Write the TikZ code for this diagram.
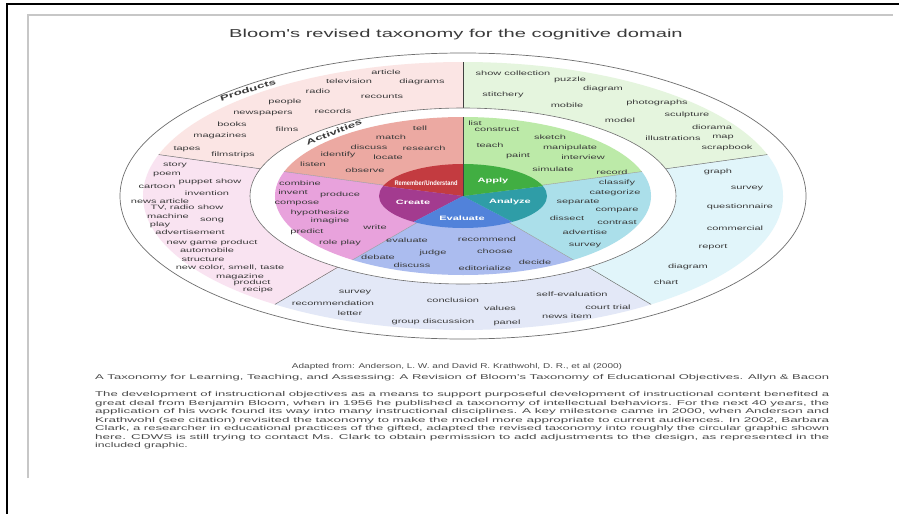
\documentclass[tikz,border=0pt]{standalone}
\usepackage{fontspec}
\setmainfont{Liberation Sans}
\newfontfamily\wf[FakeStretch=1.75]{Liberation Sans}
\usepackage{graphicx}
\definecolor{prR}{HTML}{FBE5E4}
\definecolor{prG}{HTML}{E5F5DE}
\definecolor{prT}{HTML}{E1F5FA}
\definecolor{prB}{HTML}{E3E8F7}
\definecolor{prP}{HTML}{F9E3F1}
\definecolor{acR}{HTML}{ECA9A2}
\definecolor{acG}{HTML}{BCEAA8}
\definecolor{acT}{HTML}{ABDFEA}
\definecolor{acB}{HTML}{ABBCEF}
\definecolor{acP}{HTML}{E8A2DC}
\definecolor{coR}{HTML}{C33B40}
\definecolor{coG}{HTML}{41AE42}
\definecolor{coT}{HTML}{2F9DA7}
\definecolor{coB}{HTML}{5182DA}
\definecolor{coP}{HTML}{A33B8F}
\definecolor{wordc}{HTML}{3A3A3A}
\definecolor{capc}{HTML}{4A4A4A}
\definecolor{linec}{HTML}{6E6E6E}
\newcommand\piesec[5]{\fill[#1] (0,0) -- (-#2:#4 and #5) arc[start angle=-#2,end angle=-#3,x radius=#4,y radius=#5] -- cycle;}
\begin{document}
\begin{tikzpicture}[x=1pt,y=-1pt,
  wrd/.style={font=\wf\fontsize{6.3}{7}\selectfont,text=wordc,inner sep=0pt},
  ringlab/.style={font=\wf\bfseries\fontsize{7.6}{8}\selectfont,text=wordc,inner sep=0pt},
  corelab/.style={font=\wf\bfseries\fontsize{6.3}{7}\selectfont,text=white,inner sep=0pt},
  captxt/.style={font=\fontsize{7}{8}\selectfont,text=capc,inner sep=0pt},
  divl/.style={draw=linec,line width=0.5pt}]
\useasboundingbox (0,0) rectangle (899,514);
\fill[white] (0,0) rectangle (899,514);
% frames
\draw[black,line width=2pt] (6,4) -- (899,4);
\draw[black,line width=2pt] (7,3) -- (7,514);
\draw[black!22,line width=1.5pt] (28,478) -- (28,15) -- (893,15);
% title
\node[font=\wf\fontsize{11.5}{12}\selectfont,text=wordc,inner sep=0pt] (title) at (456,35) {Bloom's revised taxonomy for the cognitive domain};
% wheel
\begin{scope}[shift={(463,196)}]
  \draw[linec,line width=0.7pt] (0,0) ellipse[x radius=343,y radius=143];
  \piesec{prR}{90}{162}{320}{134}
  \piesec{prP}{162}{234}{320}{134}
  \piesec{prB}{234}{306}{320}{134}
  \piesec{prT}{306}{378}{320}{134}
  \piesec{prG}{18}{90}{320}{134}
  \foreach \a in {162,234,306,18} \draw[divl] (-\a:213 and 88) -- (-\a:320 and 134);
  \draw[black!75,line width=0.8pt] (-90:213 and 88) -- (-90:320 and 134);
  \filldraw[fill=white,draw=linec,line width=0.6pt] (0,0) ellipse[x radius=213,y radius=88];
  \piesec{acR}{90}{162}{188}{79}
  \piesec{acP}{162}{234}{188}{79}
  \piesec{acB}{234}{306}{188}{79}
  \piesec{acT}{306}{378}{188}{79}
  \piesec{acG}{18}{90}{188}{79}
  \foreach \a in {162,234,306,18} \draw[draw=linec!70,line width=0.4pt] (0,0) -- (-\a:188 and 79);
  \piesec{coR}{90}{162}{84}{32}
  \piesec{coP}{162}{234}{84}{32}
  \piesec{coB}{234}{306}{84}{32}
  \piesec{coT}{306}{378}{84}{32}
  \piesec{coG}{18}{90}{84}{32}
  \draw[black!75,line width=0.8pt] (0,0) -- (-90:188 and 79);
\end{scope}
% ring labels
\node[ringlab,rotate=17] (products) at (248,90) {Products};
\node[ringlab,rotate=21] (activities) at (334,132) {Activities};
% core labels
\node[corelab] (remember) at (426,183) {\resizebox{63pt}{4.8pt}{Remember/Understand}};
\node[corelab] (apply) at (493,181) {Apply};
\node[corelab] (analyze) at (510,202) {Analyze};
\node[corelab] (evaluate) at (462,218) {Evaluate};
\node[corelab] (create) at (413,202) {Create};
% products words
\foreach \t/\x/\y [count=\i] in {article/386/72, television/349/81, diagrams/422/82, radio/318/91, recounts/382/96, people/285/102, newspapers/263/113, records/333/111, books/232/124, films/287/129, magazines/220/136, tapes/187/149, filmstrips/233/155}
  \node[wrd] (pr\i) at (\x,\y) {\t};
\foreach \t/\x/\y [count=\i] in {show collection/513/73, puzzle/570/80, diagram/603/89, stitchery/503/95, mobile/567/105, photographs/657/103, sculpture/687/115, model/620/120, diorama/712/127, illustrations/673/138, map/723/137, scrapbook/727/148}
  \node[wrd] (pg\i) at (\x,\y) {\t};
\foreach \t/\x/\y [count=\i] in {graph/718/172, survey/747/188, questionnaire/740/207, commercial/735/228, report/713/247, diagram/688/267, chart/666/282}
  \node[wrd] (pt\i) at (\x,\y) {\t};
\foreach \t/\x/\y [count=\i] in {survey/355/292, recommendation/333/303, letter/350/313, conclusion/453/300, values/500/308, group discussion/433/322, panel/507/323, self-evaluation/572/294, court trial/608/307, news item/567/316}
  \node[wrd] (pb\i) at (\x,\y) {\t};
\foreach \t/\x/\y [count=\i] in {story/175/165, poem/167/174, puppet show/210/182, cartoon/157/186, invention/207/193, news article/160/201, {TV, radio show}/187/208, machine/168/216, song/212/220, play/160/225, advertisement/190/232, new game product/212/243, automobile/207/250, structure/203/259, {new color, smell, taste}/230/268, magazine/240/277, product/252/283, recipe/258/290}
  \node[wrd] (pp\i) at (\x,\y) {\t};
% activities words
\foreach \t/\x/\y [count=\i] in {tell/420/128, match/391/137, discuss/369/147, research/424/148, identify/338/155, locate/388/157, listen/313/164, observe/365/170}
  \node[wrd] (ar\i) at (\x,\y) {\t};
\foreach \t/\x/\y [count=\i] in {list/475/123, construct/497/129, sketch/550/137, teach/490/145, manipulate/570/148, paint/518/156, interview/583/157, simulate/553/169, record/612/172}
  \node[wrd] (ag\i) at (\x,\y) {\t};
\foreach \t/\x/\y [count=\i] in {classify/617/183, categorize/615/193, separate/578/202, compare/617/210, dissect/567/218, contrast/617/222, advertise/585/232, survey/585/245}
  \node[wrd] (at\i) at (\x,\y) {\t};
\foreach \t/\x/\y [count=\i] in {evaluate/407/240, recommend/487/239, judge/433/253, choose/495/251, debate/378/257, discuss/412/265, decide/535/262, editorialize/485/268}
  \node[wrd] (ab\i) at (\x,\y) {\t};
\foreach \t/\x/\y [count=\i] in {combine/300/183, invent/293/192, produce/340/195, compose/297/203, hypothesize/320/213, imagine/330/221, write/375/227, predict/307/232, role play/340/243}
  \node[wrd] (ap\i) at (\x,\y) {\t};
% captions
\node[captxt] (cit1) at (457,367) {\resizebox{330pt}{\height}{Adapted from: Anderson, L. W. and David R. Krathwohl, D. R., et al (2000)}};
\node[captxt,anchor=base west] (cit2) at (95,379.5) {\resizebox{734pt}{\height}{A Taxonomy for Learning, Teaching, and Assessing: A Revision of Bloom's Taxonomy of Educational Objectives. Allyn \& Bacon}};
\node[captxt,anchor=base west] (p1) at (95,396.5) {\resizebox{734pt}{\height}{The development of instructional objectives as a means to support purposeful development of instructional content benefited a}};
\node[captxt,anchor=base west] (p2) at (95,405) {\resizebox{734pt}{\height}{great deal from Benjamin Bloom, when in 1956 he published a taxonomy of intellectual behaviors. For the next 40 years, the}};
\node[captxt,anchor=base west] (p3) at (95,413.5) {\resizebox{734pt}{\height}{application of his work found its way into many instructional disciplines. A key milestone came in 2000, when Anderson and}};
\node[captxt,anchor=base west] (p4) at (95,422) {\resizebox{734pt}{\height}{Krathwohl (see citation) revisited the taxonomy to make the model more appropriate to current audiences. In 2002, Barbara}};
\node[captxt,anchor=base west] (p5) at (95,430.5) {\resizebox{734pt}{\height}{Clark, a researcher in educational practices of the gifted, adapted the revised taxonomy into roughly the circular graphic shown}};
\node[captxt,anchor=base west] (p6) at (95,439) {\resizebox{734pt}{\height}{here. CDWS is still trying to contact Ms. Clark to obtain permission to add adjustments to the design, as represented in the}};
\node[captxt,anchor=base west,font=\wf\fontsize{7}{8}\selectfont] (p7) at (95,447.5) {included graphic.};
\end{tikzpicture}
\end{document}
